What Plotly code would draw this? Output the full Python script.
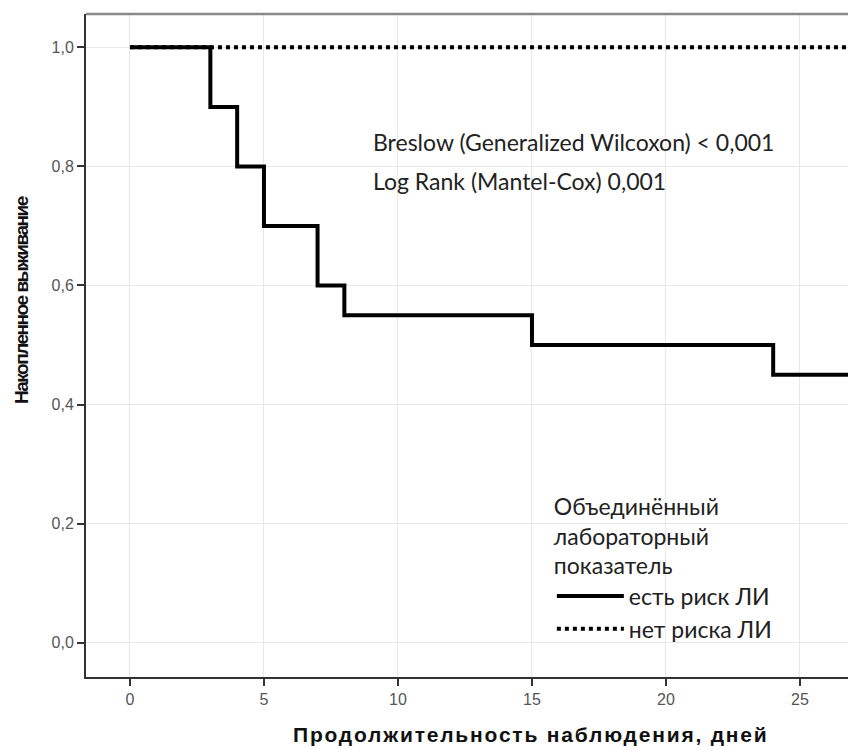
import plotly.graph_objects as go

# Data (Kaplan-Meier step values)
times_risk = [0, 3, 4, 5, 7, 8, 15, 24, 28]
surv_risk = [1.0, 0.9, 0.8, 0.7, 0.6, 0.55, 0.5, 0.45, 0.45]
times_norisk = [0, 28]
surv_norisk = [1.0, 1.0]

series_names = ["есть риск ЛИ", "нет риска ЛИ"]
x_ticks = [0, 5, 10, 15, 20, 25]
y_ticks = [0.0, 0.2, 0.4, 0.6, 0.8, 1.0]

fig = go.Figure()
fig.add_trace(go.Scatter(
    x=times_risk, y=surv_risk, mode="lines", line_shape="hv",
    name=series_names[0], line=dict(color="#000000", width=4),
))
fig.add_trace(go.Scatter(
    x=times_norisk, y=surv_norisk, mode="lines", line_shape="hv",
    name=series_names[1], line=dict(color="#000000", width=4, dash="4px,4px"),
))

tickfont = dict(family="Liberation Sans, Arial", size=16, color="#555555")
textfont = dict(family="Lato, Open Sans", size=23, color="#222222")

# The page body has an 8px margin, so the figure is drawn 8px smaller and
# margins are reduced by 8px to keep the plot area where the reference has it.
fig.update_layout(
    width=848, height=741,
    margin=dict(l=78, r=0, t=6, b=72),
    plot_bgcolor="white", paper_bgcolor="white",
    separators=",.",
    showlegend=True,
    legend=dict(
        x=0.605, y=0.29, xanchor="left", yanchor="top",
        bgcolor="rgba(0,0,0,0)",
        title=dict(text="Объединённый<br>лабораторный<br>показатель",
                   font=textfont, side="top"),
        font=textfont,
        tracegroupgap=0, itemwidth=67,
    ),
    xaxis=dict(
        range=[-1.64, 27.09], tickvals=x_ticks, ticks="outside", ticklen=7,
        tickcolor="#333333", tickwidth=2,
        showline=True, linecolor="#333333", linewidth=2,
        showgrid=True, gridcolor="#e8e8e8", gridwidth=1, zeroline=False,
        tickfont=tickfont,
    ),
    yaxis=dict(
        range=[-0.0576, 1.056], tickvals=y_ticks, tickformat=".1f", ticks="outside",
        ticklen=7, tickcolor="#333333", tickwidth=2,
        showline=True, linecolor="#333333", linewidth=2,
        showgrid=True, gridcolor="#e8e8e8", gridwidth=1, zeroline=False,
        tickfont=tickfont,
    ),
    shapes=[dict(type="line", xref="paper", yref="paper", x0=0, x1=1, y0=1, y1=1,
                 line=dict(color="#888888", width=2.5))],
    annotations=[
        dict(text="Breslow (Generalized Wilcoxon) < 0,001", xref="x", yref="y",
             x=9.0, y=0.841, xanchor="left", yanchor="middle", showarrow=False,
             font=textfont),
        dict(text="Log Rank (Mantel-Cox) 0,001", xref="x", yref="y",
             x=9.0, y=0.776, xanchor="left", yanchor="middle", showarrow=False,
             font=textfont),
        dict(text="<span style='letter-spacing:1.8px'><b>Продолжительность наблюдения, дней</b></span>",
             xref="paper", yref="paper",
             x=(531 - 86) / 770, y=-(735 - 677) / 663, xanchor="center", yanchor="middle",
             showarrow=False,
             font=dict(family="Liberation Sans, Arial", size=21, color="#111111")),
        dict(text="<span style='letter-spacing:-1.5px'><b>Накопленное выживание</b></span>",
             xref="paper", yref="paper",
             x=-(86 - 21) / 770, y=(677 - 300) / 663, xanchor="center", yanchor="middle",
             textangle=-90, showarrow=False,
             font=dict(family="Liberation Sans, Arial", size=19, color="#111111")),
    ],
)

fig.write_html("out.html")
